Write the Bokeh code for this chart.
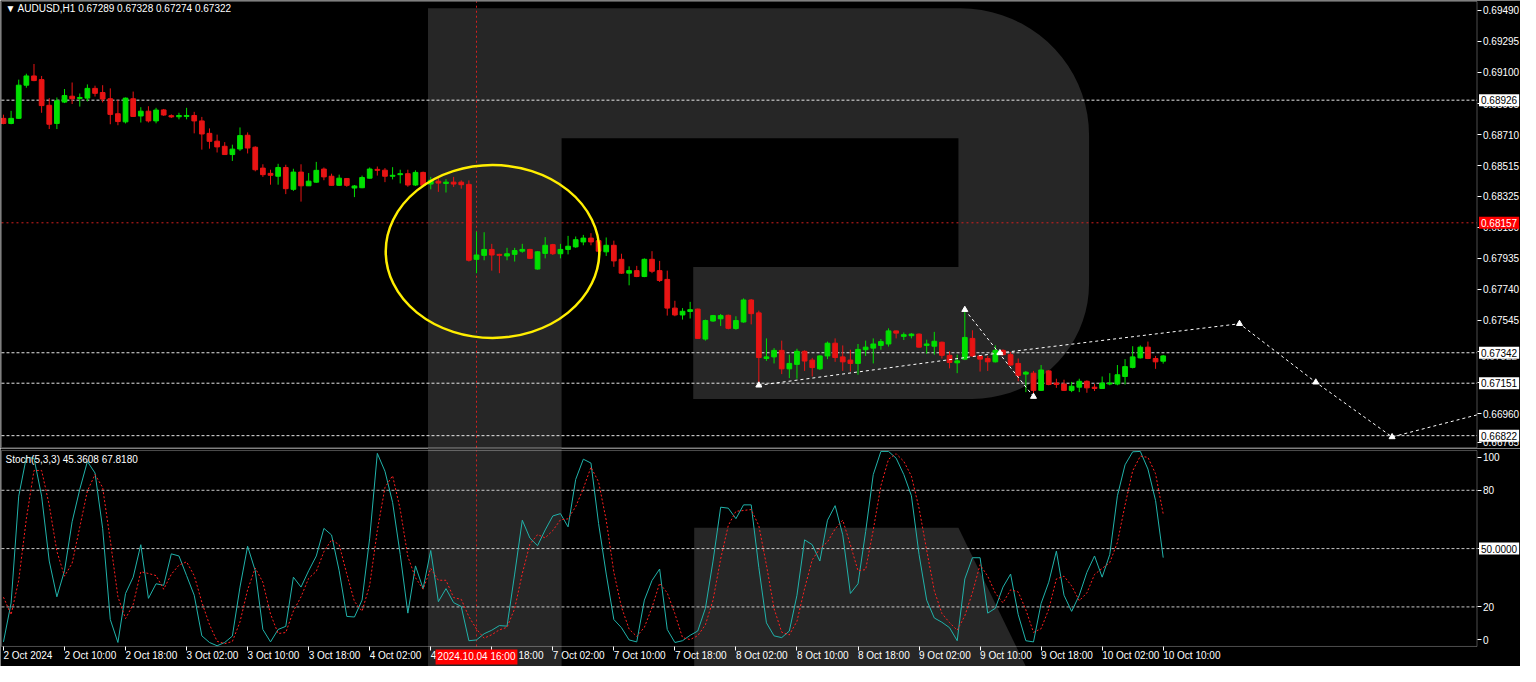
import numpy as np
from bokeh.plotting import figure
from bokeh.models import (Range1d, FixedTicker, Label, LabelSet, LinearAxis, BoxAnnotation,
                          ColumnDataSource)
from bokeh.layouts import column
from bokeh.embed import file_html
from bokeh.resources import INLINE
from bokeh.core.properties import value

# ---------------- data ----------------
symbol_title = "\u25BC AUDUSD,H1  0.67289 0.67328 0.67274 0.67322"
stoch_title = "Stoch(5,3,3) 45.3608 67.8180"

bar_index = list(range(153))

open_ = [0.68812, 0.68780, 0.68812, 0.69020, 0.69078, 0.69055, 0.68894, 0.68780, 0.68914, 0.68951,
         0.68937, 0.68939, 0.69000, 0.68974, 0.68935, 0.68841, 0.68790, 0.68935, 0.68827, 0.68857,
         0.68796, 0.68865, 0.68829, 0.68822, 0.68824, 0.68830, 0.68796, 0.68718, 0.68669, 0.68637,
         0.68585, 0.68620, 0.68706, 0.68631, 0.68500, 0.68467, 0.68449, 0.68504, 0.68367, 0.68475,
         0.68389, 0.68412, 0.68494, 0.68449, 0.68392, 0.68435, 0.68375, 0.68377, 0.68437, 0.68492,
         0.68487, 0.68449, 0.68459, 0.68465, 0.68394, 0.68473, 0.68400, 0.68418, 0.68404, 0.68412,
         0.68412, 0.68398, 0.67928, 0.67953, 0.67990, 0.67959, 0.67949, 0.67959, 0.67979, 0.67990,
         0.67867, 0.67965, 0.68020, 0.67963, 0.67990, 0.68006, 0.68037, 0.68061, 0.68045, 0.67975,
         0.68016, 0.67928, 0.67841, 0.67857, 0.67820, 0.67928, 0.67857, 0.67802, 0.67622, 0.67579,
         0.67601, 0.67616, 0.67428, 0.67541, 0.67555, 0.67577, 0.67494, 0.67535, 0.67673, 0.67592,
         0.67306, 0.67316, 0.67357, 0.67241, 0.67269, 0.67351, 0.67296, 0.67241, 0.67322, 0.67402,
         0.67316, 0.67296, 0.67275, 0.67361, 0.67371, 0.67388, 0.67397, 0.67479, 0.67445, 0.67449,
         0.67459, 0.67388, 0.67383, 0.67408, 0.67326, 0.67279, 0.67302, 0.67432, 0.67322, 0.67306,
         0.67285, 0.67357, 0.67330, 0.67275, 0.67208, 0.67214, 0.67106, 0.67228, 0.67152, 0.67146,
         0.67106, 0.67126, 0.67163, 0.67126, 0.67118, 0.67146, 0.67146, 0.67193, 0.67250, 0.67310,
         0.67377, 0.67306, 0.67289]
high = [0.68835, 0.68859, 0.69055, 0.69092, 0.69153, 0.69078, 0.68939, 0.68943, 0.68996, 0.69037,
        0.68968, 0.69025, 0.69017, 0.69020, 0.69000, 0.68928, 0.68943, 0.68980, 0.68882, 0.68888,
        0.68878, 0.68871, 0.68837, 0.68847, 0.68878, 0.68853, 0.68821, 0.68749, 0.68710, 0.68663,
        0.68647, 0.68755, 0.68724, 0.68637, 0.68524, 0.68490, 0.68527, 0.68521, 0.68496, 0.68524,
        0.68469, 0.68539, 0.68504, 0.68465, 0.68459, 0.68438, 0.68394, 0.68453, 0.68504, 0.68510,
        0.68500, 0.68506, 0.68490, 0.68490, 0.68486, 0.68478, 0.68445, 0.68437, 0.68431, 0.68445,
        0.68423, 0.68423, 0.68102, 0.68098, 0.68025, 0.67963, 0.68000, 0.68000, 0.68025, 0.67994,
        0.67979, 0.68067, 0.68025, 0.68025, 0.68075, 0.68071, 0.68081, 0.68092, 0.68051, 0.68065,
        0.68045, 0.67963, 0.67884, 0.67887, 0.67934, 0.67979, 0.67918, 0.67857, 0.67668, 0.67622,
        0.67661, 0.67619, 0.67550, 0.67579, 0.67585, 0.67581, 0.67571, 0.67683, 0.67679, 0.67606,
        0.67432, 0.67371, 0.67418, 0.67330, 0.67367, 0.67357, 0.67310, 0.67326, 0.67412, 0.67432,
        0.67388, 0.67361, 0.67397, 0.67418, 0.67432, 0.67428, 0.67495, 0.67481, 0.67469, 0.67465,
        0.67463, 0.67424, 0.67473, 0.67412, 0.67351, 0.67330, 0.67612, 0.67483, 0.67326, 0.67322,
        0.67388, 0.67363, 0.67347, 0.67306, 0.67228, 0.67228, 0.67265, 0.67234, 0.67179, 0.67173,
        0.67159, 0.67179, 0.67169, 0.67146, 0.67193, 0.67214, 0.67265, 0.67302, 0.67383, 0.67388,
        0.67412, 0.67322, 0.67328]
low = [0.68775, 0.68775, 0.68810, 0.69004, 0.69045, 0.68847, 0.68745, 0.68745, 0.68908, 0.68902,
       0.68886, 0.68919, 0.68949, 0.68912, 0.68775, 0.68769, 0.68780, 0.68821, 0.68786, 0.68786,
       0.68781, 0.68827, 0.68814, 0.68806, 0.68806, 0.68718, 0.68616, 0.68622, 0.68598, 0.68583,
       0.68545, 0.68608, 0.68592, 0.68480, 0.68445, 0.68396, 0.68396, 0.68337, 0.68357, 0.68290,
       0.68388, 0.68408, 0.68424, 0.68390, 0.68388, 0.68383, 0.68318, 0.68374, 0.68435, 0.68453,
       0.68412, 0.68429, 0.68404, 0.68383, 0.68388, 0.68388, 0.68367, 0.68351, 0.68347, 0.68382,
       0.68371, 0.67914, 0.67841, 0.67922, 0.67857, 0.67841, 0.67922, 0.67914, 0.67969, 0.67932,
       0.67863, 0.67934, 0.67955, 0.67934, 0.67959, 0.68000, 0.68016, 0.68016, 0.67959, 0.67949,
       0.67881, 0.67836, 0.67765, 0.67816, 0.67816, 0.67841, 0.67786, 0.67575, 0.67571, 0.67550,
       0.67557, 0.67429, 0.67418, 0.67536, 0.67510, 0.67489, 0.67486, 0.67530, 0.67520, 0.67138,
       0.67291, 0.67275, 0.67208, 0.67183, 0.67179, 0.67228, 0.67193, 0.67234, 0.67302, 0.67285,
       0.67228, 0.67224, 0.67204, 0.67322, 0.67275, 0.67361, 0.67381, 0.67432, 0.67422, 0.67432,
       0.67374, 0.67336, 0.67330, 0.67306, 0.67244, 0.67214, 0.67296, 0.67316, 0.67224, 0.67228,
       0.67281, 0.67326, 0.67261, 0.67163, 0.67095, 0.67071, 0.67102, 0.67138, 0.67122, 0.67102,
       0.67095, 0.67095, 0.67091, 0.67102, 0.67116, 0.67138, 0.67138, 0.67143, 0.67244, 0.67306,
       0.67302, 0.67241, 0.67274]
close = [0.68780, 0.68812, 0.69020, 0.69078, 0.69049, 0.68892, 0.68775, 0.68922, 0.68955, 0.68935,
         0.68943, 0.69000, 0.68969, 0.68933, 0.68837, 0.68792, 0.68939, 0.68824, 0.68857, 0.68796,
         0.68864, 0.68833, 0.68821, 0.68830, 0.68830, 0.68796, 0.68714, 0.68668, 0.68633, 0.68585,
         0.68619, 0.68704, 0.68626, 0.68490, 0.68459, 0.68455, 0.68504, 0.68371, 0.68475, 0.68389,
         0.68418, 0.68486, 0.68445, 0.68392, 0.68437, 0.68392, 0.68388, 0.68441, 0.68494, 0.68486,
         0.68449, 0.68455, 0.68465, 0.68394, 0.68473, 0.68392, 0.68424, 0.68406, 0.68412, 0.68400,
         0.68396, 0.67922, 0.67955, 0.67990, 0.67955, 0.67953, 0.67963, 0.67983, 0.67990, 0.67934,
         0.67975, 0.68016, 0.67963, 0.67990, 0.68010, 0.68051, 0.68061, 0.68037, 0.67979, 0.68016,
         0.67918, 0.67841, 0.67857, 0.67820, 0.67928, 0.67853, 0.67795, 0.67622, 0.67579, 0.67602,
         0.67612, 0.67432, 0.67544, 0.67575, 0.67575, 0.67495, 0.67544, 0.67673, 0.67587, 0.67312,
         0.67316, 0.67357, 0.67241, 0.67275, 0.67351, 0.67290, 0.67249, 0.67322, 0.67402, 0.67312,
         0.67285, 0.67275, 0.67363, 0.67377, 0.67397, 0.67412, 0.67479, 0.67465, 0.67455, 0.67459,
         0.67377, 0.67397, 0.67414, 0.67326, 0.67281, 0.67291, 0.67438, 0.67322, 0.67302, 0.67285,
         0.67357, 0.67330, 0.67265, 0.67200, 0.67220, 0.67106, 0.67234, 0.67143, 0.67143, 0.67106,
         0.67132, 0.67163, 0.67122, 0.67118, 0.67152, 0.67152, 0.67204, 0.67255, 0.67316, 0.67377,
         0.67306, 0.67285, 0.67322]

stoch_main = [2, 22, 77, 97, 96.5, 77, 43.6, 25.2, 38.6, 63.8,
              80.5, 94.8, 88.9, 60.4, 13.5, 1.7, 26.9, 35.3, 52, 24.4,
              31.9, 31.1, 47.3, 46.2, 36.1, 26, 5.1, 1.7, 0, 1.7,
              5, 30.2, 51.2, 38.6, 8.4, 2, 8.4, 10, 35.3, 30.2,
              38.6, 46.2, 60.4, 57, 38.6, 15.1, 14.8, 23.5, 55.4, 99,
              89.8, 73.8, 47, 16.8, 41.1, 29.4, 49, 22.7, 29.4, 22.2,
              20.2, 2.6, 3, 6.2, 8, 10.4, 10.1, 36.9, 64.6, 55.4,
              51.5, 59.6, 66.8, 68, 61.2, 85.6, 96, 94, 62.9, 36.9,
              13.5, 9.3, 3, 2, 23.5, 33.6, 39.5, 8.4, 1.7, 2.6,
              5.4, 7.6, 19.3, 43.6, 71.3, 70.8, 65.4, 72.5, 72.5, 40.3,
              11.8, 5.1, 4.2, 7.6, 26, 54.5, 52, 43.6, 64.6, 72.1,
              57.1, 26.9, 31.9, 58.7, 88.1, 100, 100, 96.5, 88.1, 77.2,
              47, 23.5, 14.3, 12.1, 9.3, 2.6, 34.4, 45.3, 45.3, 16.8,
              19.3, 30.2, 36.9, 16, 2.6, 2, 21.8, 32.7, 48.7, 26,
              17.7, 26, 37.8, 46.2, 35.3, 47, 77.2, 93.1, 99.8, 100,
              90.9, 74.7, 45.36]
stoch_signal = [25, 16, 33.7, 65.3, 90.2, 90.2, 72.4, 48.6, 35.8, 42.5,
                61.0, 79.7, 88.1, 81.4, 54.3, 25.2, 14.0, 21.3, 38.1, 37.2,
                36.1, 29.1, 36.8, 41.5, 43.2, 36.1, 22.4, 10.9, 2.3, 1.1,
                2.2, 12.3, 28.8, 40.0, 32.7, 16.3, 6.3, 6.8, 17.9, 25.2,
                34.7, 38.3, 48.4, 54.5, 52.0, 36.9, 22.8, 17.8, 31.2, 59.3,
                81.4, 87.5, 70.2, 45.9, 35.0, 29.1, 39.8, 33.7, 33.7, 24.8,
                23.9, 15.0, 8.6, 3.9, 5.7, 8.2, 9.5, 19.1, 37.2, 52.3,
                57.2, 55.5, 59.3, 64.8, 65.3, 71.6, 80.9, 91.9, 84.3, 64.6,
                37.8, 19.9, 8.6, 4.8, 9.5, 19.7, 32.2, 27.2, 16.5, 4.2,
                3.2, 5.2, 10.8, 23.5, 44.7, 61.9, 69.2, 69.6, 70.1, 61.8,
                41.5, 19.1, 7.0, 5.6, 12.6, 29.4, 44.2, 50.0, 53.4, 60.1,
                64.6, 52.0, 38.6, 39.2, 59.6, 82.3, 96.0, 98.8, 94.9, 87.3,
                70.8, 49.2, 28.3, 16.6, 11.9, 8.0, 15.4, 27.4, 41.7, 35.8,
                27.1, 22.1, 28.8, 27.7, 18.5, 6.9, 8.8, 18.8, 34.4, 35.8,
                30.8, 23.2, 27.2, 36.7, 39.8, 42.8, 53.2, 72.4, 90.0, 97.6,
                96.9, 88.5, 67.818]

time_tick_index = [0, 8, 16, 24, 32, 40, 48, 56, 64, 72, 80, 88, 96, 104, 112, 120, 128, 136, 144, 152]
time_tick_labels = ["2 Oct 2024", "2 Oct 10:00", "2 Oct 18:00", "3 Oct 02:00", "3 Oct 10:00",
                    "3 Oct 18:00", "4 Oct 02:00", "4 Oct 10:00", "4 Oct 18:00", "7 Oct 02:00",
                    "7 Oct 10:00", "7 Oct 18:00", "8 Oct 02:00", "8 Oct 10:00", "8 Oct 18:00",
                    "9 Oct 02:00", "9 Oct 10:00", "9 Oct 18:00", "10 Oct 02:00", "10 Oct 10:00"]

# price scale: tick positions and their labels (the lowest label sits just inside the window)
price_ticks = [0.69490, 0.69295, 0.69100, 0.68905, 0.68710, 0.68515, 0.68325, 0.68130,
               0.67935, 0.67740, 0.67545, 0.67350, 0.67155, 0.66960, 0.66782]
price_tick_labels = ["0.69490", "0.69295", "0.69100", "0.68905", "0.68710", "0.68515", "0.68325",
                     "0.68130", "0.67935", "0.67740", "0.67545", "0.67350", "0.67155", "0.66960",
                     "0.66765"]
level_prices = [0.68926, 0.67342, 0.67151, 0.66822]
level_labels = ["0.68926", "0.67342", "0.67151", "0.66822"]
current_price = 0.67322
current_label = "0.67322"
crosshair_index = 62
crosshair_price = 0.68157
crosshair_price_label = "0.68157"
crosshair_time_label = "2024.10.04 16:00"

stoch_ticks = [3, 20, 50, 80, 97]
stoch_tick_labels = {3: "0", 20: "20", 50: "", 80: "80", 97: "100"}
stoch_levels = [20, 50, 80]
stoch_mid_label = "50.0000"

# projection drawn on the chart (time index, price)
proj_a_x = [99, 130.6]
proj_a_y = [0.67138, 0.67341]
proj_b_x = [126, 135]
proj_b_y = [0.67612, 0.67067]
proj_c_x = [130.6, 162, 172, 182, 193.1]
proj_c_y = [0.67341, 0.67524, 0.67157, 0.66814, 0.66952]
proj_pts_x = [99, 126, 130.6, 135, 162, 172, 182]
proj_pts_y = [0.67138, 0.67612, 0.67341, 0.67067, 0.67524, 0.67157, 0.66814]

# highlighted zone (ellipse)
zone_x = [64.1]
zone_y = [0.67977]
zone_w = [28.0]
zone_h = [0.01084]

# ---------------- geometry / styling ----------------
BULL = "#00e000"
BEAR = "#e81414"
BG = "black"
WM = "#262626"
FONT = "Liberation Sans"
FS = "10px"
W = 1520
X0, X1 = -0.389, 198.83          # whole canvas width (incl. price scale)
XL, XR = -0.26, 193.13           # chart window borders
PY0, PY1 = 0.667415, 0.695512    # main canvas
PB, PT = 0.667464, 0.69545       # main window borders
SY0, SY1 = -10.66, 101.5         # stochastic canvas (incl. time scale)
SB, ST = -0.35, 100.45           # stochastic window borders

xr = Range1d(X0, X1)

def wm_x(px):
    return (px - 3.0) / 7.71

def wm_p(py):
    return 0.695512 - py * 6.124e-5

def wm_s(py):
    return (660.8 - py) / 1.988

t = np.linspace(0, np.pi / 2, 20)
outline = [(432, 8)]
outline += [(970 + 130 * np.sin(a), 138 - 130 * np.cos(a)) for a in t]
outline += [(982 + 118 * np.cos(a), 290 + 118 * np.sin(a)) for a in t]
outline += [(700, 408), (700, 273), (968, 273), (968, 141), (567, 141), (567, 470), (432, 470)]


def style_axis(a):
    a.axis_line_color = None
    a.major_tick_line_color = "white"
    a.major_tick_out = 4
    a.major_tick_in = 0
    a.minor_tick_line_color = None
    a.major_label_text_color = "white"
    a.major_label_text_font = FONT
    a.major_label_text_font_size = FS
    a.major_label_standoff = 2


def box_label(fig, x, y, text, bg, fg, **kw):
    fig.add_layout(Label(x=x, y=y, text=text, text_baseline="middle", text_color=fg,
                         text_font=FONT, text_font_size=FS, background_fill_color=bg,
                         padding=2, **kw))

# ---------------- main price panel ----------------
p = figure(frame_width=W, frame_height=448, x_range=xr, y_range=Range1d(PY0, PY1),
           y_axis_location=None, x_axis_location=None, toolbar_location=None,
           output_backend="svg", background_fill_color=BG, border_fill_color=BG,
           outline_line_color=None, min_border=0)
p.grid.visible = False

p.patch([wm_x(a) for a, b in outline], [wm_p(b) for a, b in outline], color=WM, line_color=None)

ay = LinearAxis(fixed_location=XR, ticker=FixedTicker(ticks=price_ticks),
                major_label_overrides=dict(zip(price_ticks, price_tick_labels)))
style_axis(ay)
p.add_layout(ay, "right")

n = len(level_prices)
p.segment(x0=[XL] * n, y0=level_prices, x1=[XR] * n, y1=level_prices,
          line_color="#e6e6e6", line_dash="3 2", line_width=1)
p.segment(x0=[XL], y0=[crosshair_price], x1=[XR], y1=[crosshair_price],
          line_color="#d42020", line_dash="2 3", line_width=1)
p.segment(x0=[crosshair_index], y0=[PB], x1=[crosshair_index], y1=[PT],
          line_color="#d42020", line_dash="2 3", line_width=1)

colors = [BULL if c >= o else BEAR for o, c in zip(open_, close)]
src = ColumnDataSource(dict(x=bar_index, o=open_, h=high, l=low, c=close,
                            top=[max(o, c) for o, c in zip(open_, close)],
                            bot=[min(o, c) for o, c in zip(open_, close)],
                            col=colors))
p.segment(x0="x", y0="l", x1="x", y1="h", line_color="col", line_width=1, source=src)
p.vbar(x="x", width=0.62, top="top", bottom="bot", fill_color="col", line_color="col",
       line_width=1, source=src)

p.ellipse(x=zone_x, y=zone_y, width=zone_w, height=zone_h, fill_color=None,
          line_color="#ffee00", line_width=2.5)

for xs, ys in ((proj_a_x, proj_a_y), (proj_b_x, proj_b_y), (proj_c_x, proj_c_y)):
    p.line(xs, ys, line_color="white", line_dash="3 3", line_width=1)
p.scatter(proj_pts_x, proj_pts_y, marker="triangle", size=6, fill_color="white",
          line_color="white")

p.add_layout(BoxAnnotation(left=XL, right=XR, bottom=PB, top=PT, fill_alpha=0,
                           line_color="white", line_width=1))

p.add_layout(Label(x=XL, y=PT, x_offset=4, y_offset=-2, text=symbol_title,
                   text_baseline="top", text_color="white", text_font=FONT,
                   text_font_size=FS))

p.add_layout(Label(x=XR, y=current_price, x_offset=4, text=current_label,
                   text_baseline="middle", text_color="#bbbbbb", text_font=FONT,
                   text_font_size=FS))
for lv, lt in zip(level_prices, level_labels):
    box_label(p, XR, lv, lt, "white", "black", x_offset=2)
box_label(p, XR, crosshair_price, crosshair_price_label, "#ff0000", "white", x_offset=2)

# ---------------- stochastic panel ----------------
s = figure(frame_width=W, frame_height=218, x_range=xr, y_range=Range1d(SY0, SY1),
           y_axis_location=None, x_axis_location=None, toolbar_location=None,
           output_backend="svg", background_fill_color=BG, border_fill_color=BG,
           outline_line_color=None, min_border=0)
s.grid.visible = False

s.quad(left=[wm_x(432)], right=[wm_x(567)], bottom=[SY0 - 5], top=[SY1 + 5],
       color=WM, line_color=None)
leg = [(701, 540), (968, 540), (1040, 690), (701, 690)]
s.patch([wm_x(a) for a, b in leg], [wm_s(b) for a, b in leg], color=WM, line_color=None)

sy = LinearAxis(fixed_location=XR, ticker=FixedTicker(ticks=stoch_ticks),
                major_label_overrides=stoch_tick_labels)
style_axis(sy)
s.add_layout(sy, "right")

sx = LinearAxis(fixed_location=SB, ticker=FixedTicker(ticks=time_tick_index),
                major_label_overrides={i: "" for i in time_tick_index})
style_axis(sx)
s.add_layout(sx, "below")

m = len(stoch_levels)
s.segment(x0=[XL] * m, y0=stoch_levels, x1=[XR] * m, y1=stoch_levels,
          line_color="#c8c8c8", line_dash="3 2", line_width=1)
s.segment(x0=[crosshair_index], y0=[SB], x1=[crosshair_index], y1=[ST],
          line_color="#d42020", line_dash="2 3", line_width=1)

s.line(bar_index, stoch_main, line_color="#20b2aa", line_width=1)
s.line(bar_index, stoch_signal, line_color="#ff2020", line_dash="2 2", line_width=1)

s.add_layout(BoxAnnotation(left=XL, right=XR, bottom=SB, top=ST, fill_alpha=0,
                           line_color="white", line_width=1))

s.add_layout(Label(x=XL, y=ST, x_offset=4, y_offset=-3, text=stoch_title,
                   text_baseline="top", text_color="white", text_font=FONT,
                   text_font_size=FS))
box_label(s, XR, 50, stoch_mid_label, "white", "black", x_offset=2)

tsrc = ColumnDataSource(dict(x=time_tick_index, y=[SB] * len(time_tick_index),
                             t=time_tick_labels))
s.add_layout(LabelSet(x="x", y="y", text="t", source=tsrc, x_offset=0, y_offset=-4,
                      text_align="left", text_baseline="top", text_color="white",
                      text_font=value(FONT), text_font_size="10px"))
s.add_layout(Label(x=crosshair_index, y=SB, y_offset=-3, text=crosshair_time_label,
                   text_align="center", text_baseline="top", text_color="white",
                   text_font=FONT, text_font_size=FS, background_fill_color="#ff0000",
                   padding=2))

layout = column(p, s, spacing=0)
open("out.html", "w").write(file_html(layout, INLINE))
